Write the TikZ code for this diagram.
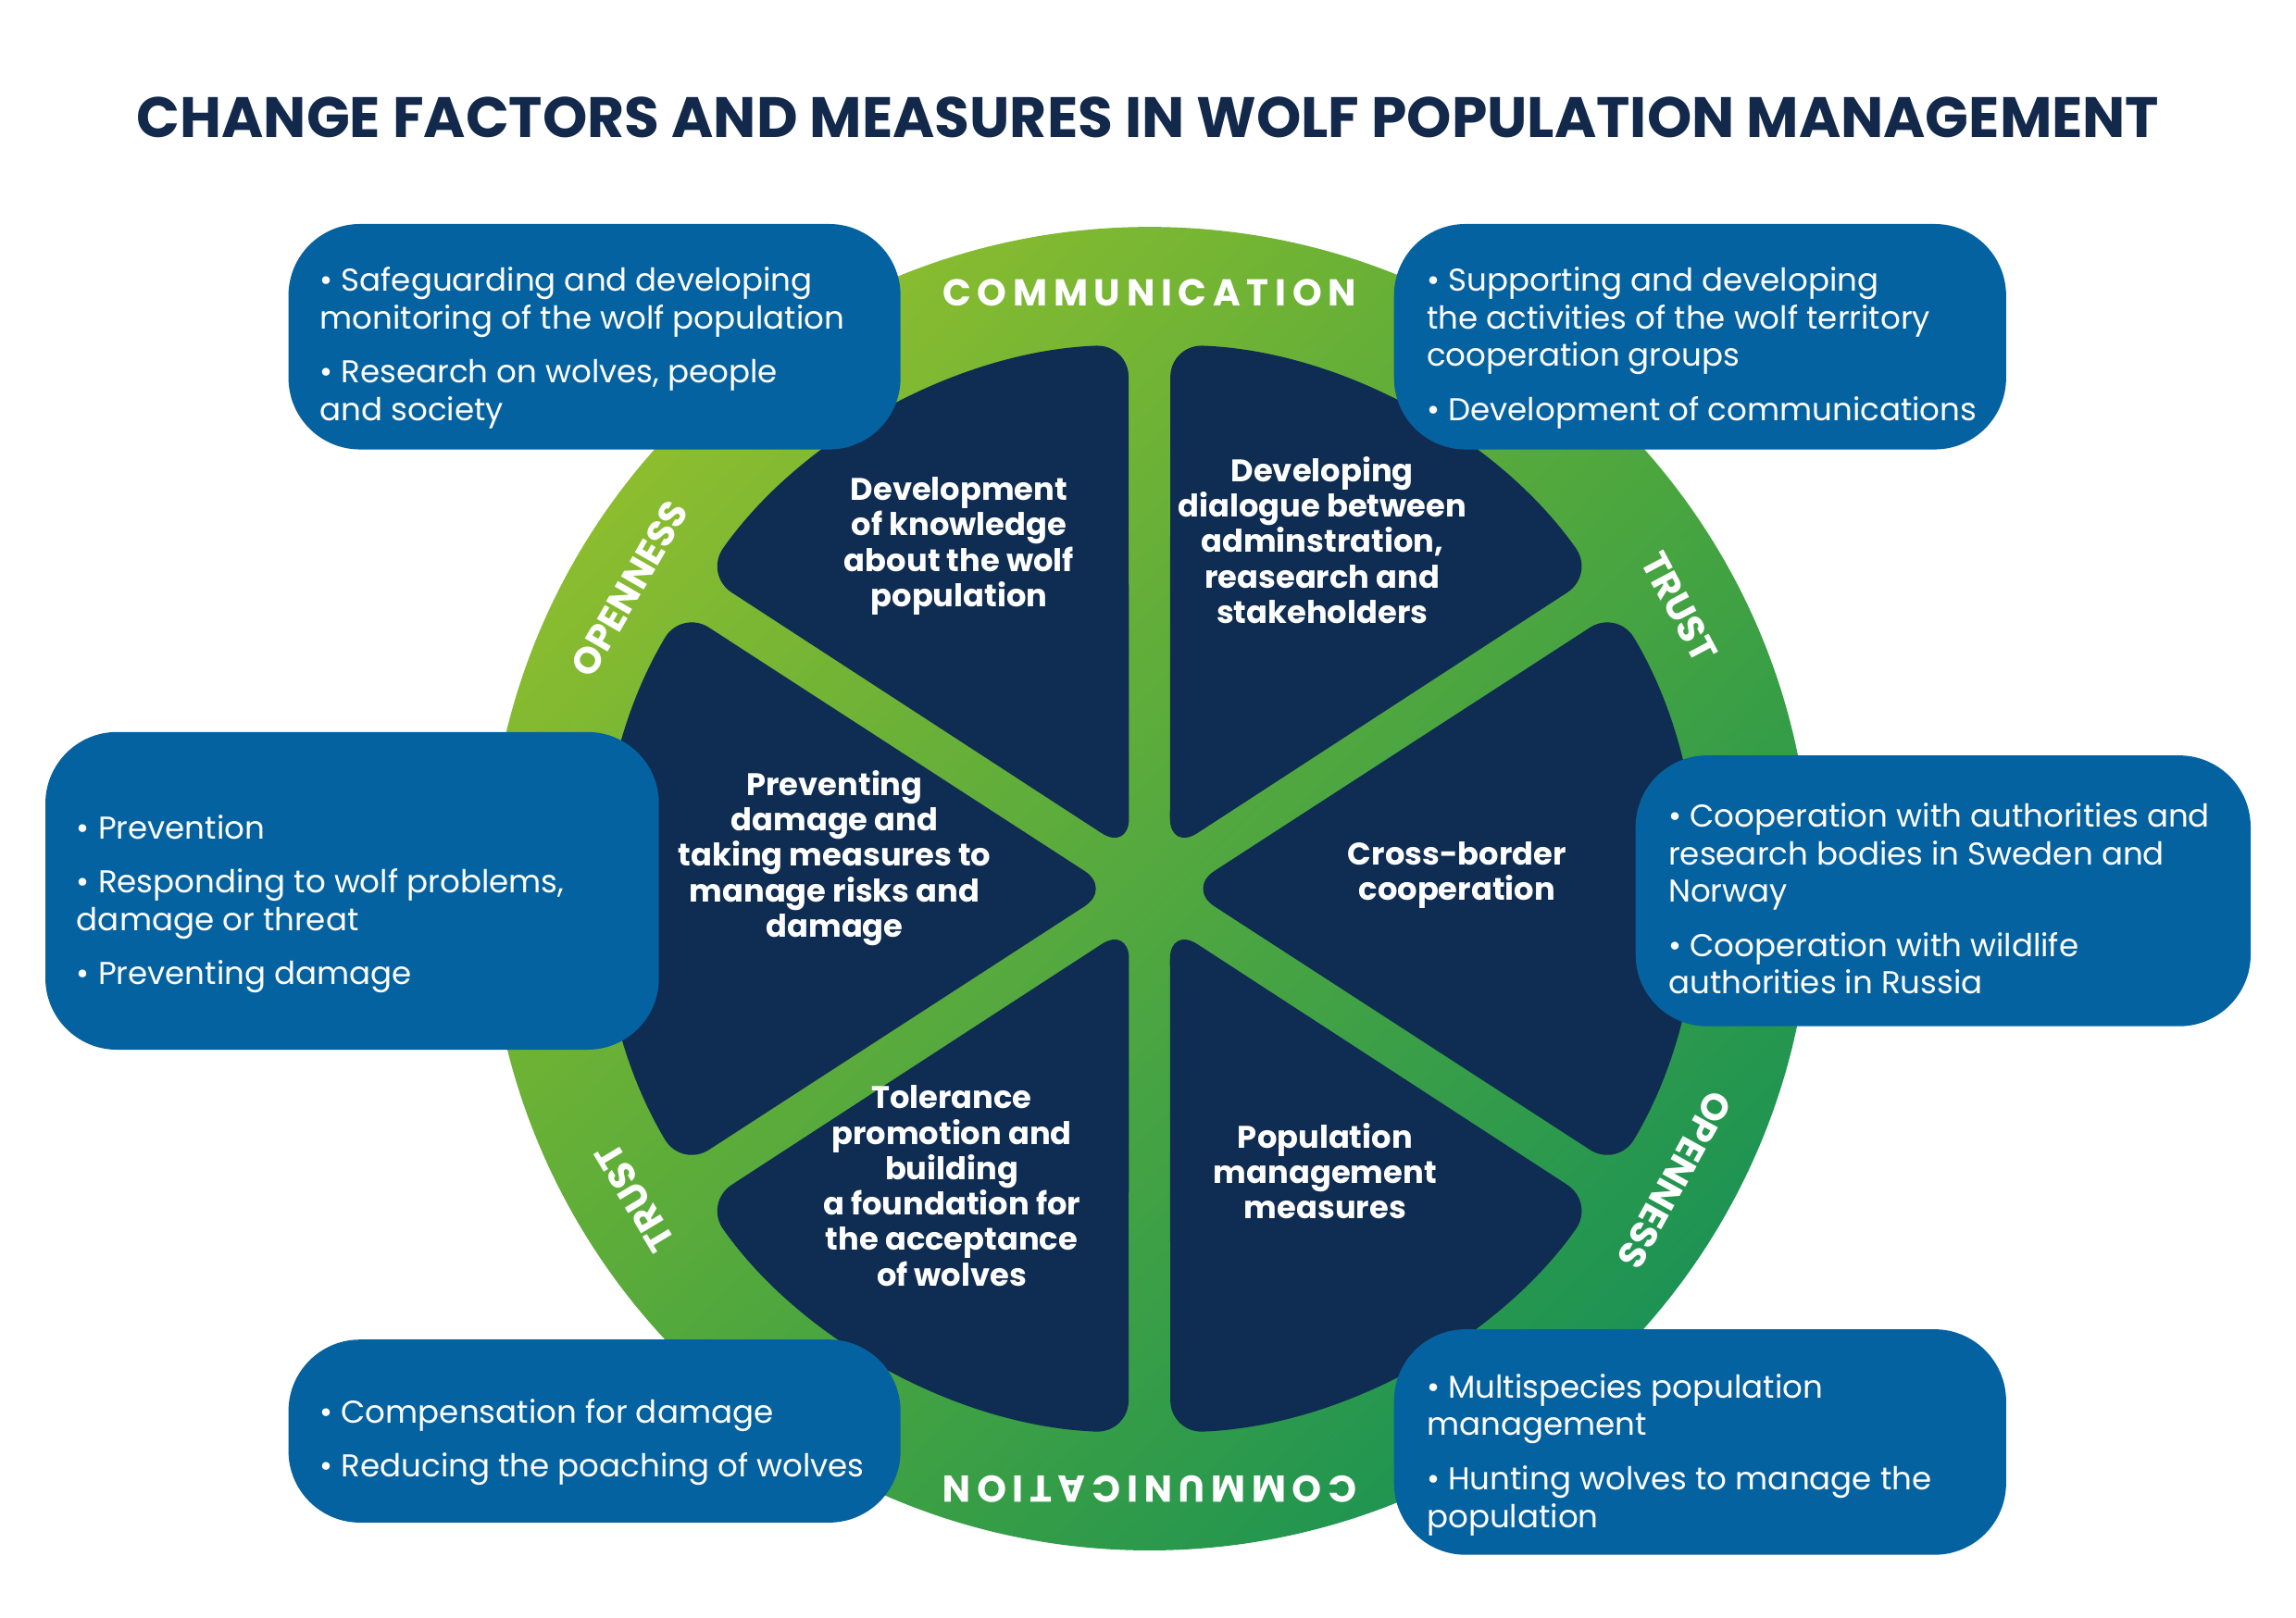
\documentclass[tikz,border=0pt]{standalone}
\usepackage{fontspec}
\setmainfont{Poppins}
\usetikzlibrary{shadings}
\begin{document}
\begin{tikzpicture}[x=0.015816cm,y=-0.015816cm,
  box/.style={fill=boxblue,rounded corners=22},
  btxt/.style={anchor=north west,text=white,align=left,font=\fontsize{9.7}{11.6}\selectfont,inner sep=0},
  stxt/.style={text=white,align=center,font=\bfseries\fontsize{9.6}{10.9}\selectfont},
  ring/.style={text=white,font=\bfseries\fontsize{11.5}{12}\selectfont}]
\definecolor{boxblue}{HTML}{0562A0}
\definecolor{navy}{HTML}{0F2D52}
\definecolor{ttl}{HTML}{13294B}
\definecolor{gA}{HTML}{A6C62A}
\definecolor{gM}{HTML}{4FA83A}
\definecolor{gB}{HTML}{078A5E}
\useasboundingbox (0,0) rectangle (1568,1105);
\node[text=ttl,font=\bfseries\fontsize{17.5}{20}\selectfont] (title) at (784,80) {CHANGE FACTORS AND MEASURES IN WOLF POPULATION MANAGEMENT};
\begin{scope}[shift={(785,607)},yscale=-1]
  \shade[upper left=gA,upper right=gM,lower left=gM,lower right=gB] (0,0) circle[radius=452];
  \foreach \a/\b/\d in {33/90/29.3,90/147/29.3,147/213/25.7,213/270/29.3,270/327/29.3,-33/33/25.7}{
    \pgfmathsetmacro\m{(\a+\b)/2}
    \fill[navy,rounded corners=10] (\m:\d) -- (\a+2.2:372) arc[start angle=\a+2.2,end angle=\b-2.2,radius=372] -- cycle;
  }
  \node[ring] (r1) at (90:407) {C\,O\,M\,M\,U\,N\,I\,C\,A\,T\,I\,O\,N};
  \node[ring,rotate=60] (r2) at (150:410) {OPENNESS};
  \node[ring,rotate=-62] (r3) at (28:410) {TRUST};
  \node[ring,rotate=-119] (r4) at (-29:410) {OPENNESS};
  \node[ring,rotate=-180] (r5) at (-90:410) {C\,O\,M\,M\,U\,N\,I\,C\,A\,T\,I\,O\,N};
  \node[ring,rotate=121] (r6) at (211:410) {TRUST};
\end{scope}
\node[stxt] (s1) at (655,373) {Development\\of knowledge\\about the wolf\\population};
\node[stxt] (s2) at (903,369) {Developing\\dialogue between\\adminstration,\\reasearch and\\stakeholders};
\node[stxt] (s3) at (570,586) {Preventing\\damage and\\taking measures to\\manage risks and\\damage};
\node[stxt] (s4) at (995,598) {Cross-border\\cooperation};
\node[stxt] (s5) at (650,810) {Tolerance\\promotion and\\building\\a foundation for\\the acceptance\\of wolves};
\node[stxt] (s6) at (905,800) {Population\\management\\measures};
\fill[box] (197,153) rectangle (615,307);
\fill[box] (952,153) rectangle (1370,307);
\fill[box] (31,500) rectangle (450,717);
\fill[box] (1117,516) rectangle (1537,701);
\fill[box] (197,915) rectangle (615,1040);
\fill[box] (952,908) rectangle (1370,1062);
\node[btxt] (b1) at (218,182) {• Safeguarding and developing\\monitoring of the wolf population\\[5pt]• Research on wolves, people\\and society};
\node[btxt] (b2) at (974,182) {• Supporting and developing\\the activities of the wolf territory\\cooperation groups\\[5pt]• Development of communications};
\node[btxt] (b3) at (52,556) {• Prevention\\[5pt]• Responding to wolf problems,\\damage or threat\\[5pt]• Preventing damage};
\node[btxt] (b4) at (1139,548) {• Cooperation with authorities and\\research bodies in Sweden and\\Norway\\[5pt]• Cooperation with wildlife\\authorities in Russia};
\node[btxt] (b5) at (218,955) {• Compensation for damage\\[5pt]• Reducing the poaching of wolves};
\node[btxt] (b6) at (974,938) {• Multispecies population\\management\\[5pt]• Hunting wolves to manage the\\population};
\end{tikzpicture}
\end{document}
